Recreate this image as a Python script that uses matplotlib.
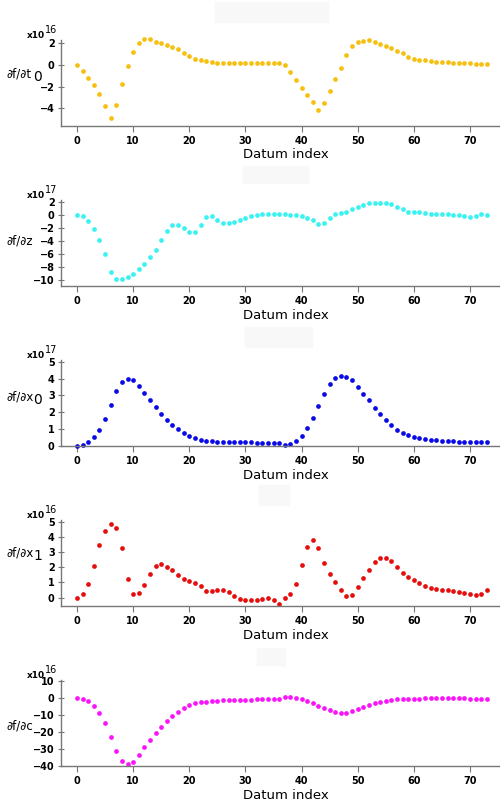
import numpy as np
import matplotlib
matplotlib.use("Agg")
from matplotlib import pyplot as plt
from matplotlib.patches import Rectangle

# datum index
idx = np.arange(74)

# derivative values, in units of the exponent shown on each panel
dt0 = [0.0, -0.55, -1.2, -1.9, -2.7, -3.8, -4.9, -3.7, -1.8, -0.15,
       1.2, 2.0, 2.3, 2.3, 2.1, 1.95, 1.8, 1.65, 1.45, 1.1,
       0.75, 0.55, 0.42, 0.3, 0.22, 0.17, 0.15, 0.15, 0.15, 0.15,
       0.15, 0.15, 0.15, 0.15, 0.15, 0.15, 0.15, -0.05, -0.68, -1.36,
       -2.15, -2.75, -3.45, -4.15, -3.5, -2.4, -1.27, -0.27, 0.85, 1.7,
       2.07, 2.18, 2.22, 2.05, 1.87, 1.69, 1.48, 1.25, 1.04, 0.68,
       0.5, 0.45, 0.4, 0.32, 0.27, 0.24, 0.2, 0.18, 0.16, 0.14,
       0.12, 0.1, 0.1, 0.1]
dz = [0.05, -0.15, -0.87, -2.1, -3.8, -6.0, -8.7, -9.9, -9.75, -9.5,
      -9.1, -8.3, -7.55, -6.4, -5.3, -3.8, -2.45, -1.6, -1.5, -1.95,
      -2.55, -2.65, -1.5, -0.3, -0.2, -0.7, -1.2, -1.3, -1.1, -0.75,
      -0.45, -0.15, 0.05, 0.15, 0.15, 0.15, 0.2, 0.1, 0.05, 0.0,
      -0.15, -0.4, -0.8, -1.4, -1.2, -0.45, 0.1, 0.25, 0.45, 0.85,
      1.3, 1.5, 1.85, 1.9, 1.9, 1.85, 1.7, 1.3, 0.9, 0.45,
      0.4, 0.45, 0.3, 0.2, 0.1, 0.1, 0.1, 0.05, -0.05, -0.2,
      -0.3, -0.15, 0.1, -0.05]
dx0 = [0.0, 0.06, 0.22, 0.52, 0.95, 1.6, 2.42, 3.27, 3.8, 3.97,
       3.9, 3.55, 3.15, 2.72, 2.3, 1.92, 1.57, 1.27, 1.0, 0.75,
       0.6, 0.46, 0.38, 0.32, 0.28, 0.25, 0.24, 0.23, 0.22, 0.22,
       0.21, 0.21, 0.2, 0.2, 0.2, 0.19, 0.18, 0.05, 0.1, 0.28,
       0.6, 1.07, 1.65, 2.36, 3.1, 3.7, 4.05, 4.18, 4.12, 3.9,
       3.5, 3.1, 2.7, 2.27, 1.88, 1.53, 1.23, 0.97, 0.8, 0.65,
       0.56, 0.46, 0.4, 0.36, 0.33, 0.3, 0.28, 0.27, 0.26, 0.25,
       0.24, 0.23, 0.23, 0.23]
dx1 = [0.0, 0.22, 0.92, 2.1, 3.43, 4.4, 4.85, 4.56, 3.27, 1.22,
       0.22, 0.28, 0.8, 1.55, 2.05, 2.18, 2.03, 1.81, 1.5, 1.2,
       1.07, 0.98, 0.74, 0.46, 0.41, 0.52, 0.52, 0.37, 0.11, -0.07,
       -0.15, -0.17, -0.15, -0.11, -0.04, -0.13, -0.44, -0.04, 0.22, 0.9,
       2.12, 3.32, 3.78, 3.27, 2.27, 1.53, 1.0, 0.5, 0.09, 0.2,
       0.7, 1.27, 1.81, 2.34, 2.6, 2.6, 2.4, 2.03, 1.62, 1.33,
       1.16, 0.94, 0.74, 0.61, 0.55, 0.5, 0.48, 0.41, 0.35, 0.28,
       0.22, 0.17, 0.22, 0.48]
dc = [0.0, -0.6, -2.2, -5.0, -9.2, -15.1, -23.1, -31.5, -37.0, -39.0,
      -37.5, -33.7, -29.0, -24.7, -20.7, -17.1, -13.9, -11.0, -8.4, -6.2,
      -4.4, -3.4, -2.8, -2.4, -2.0, -1.8, -1.6, -1.6, -1.5, -1.5,
      -1.2, -1.2, -1.1, -1.1, -1.0, -1.0, -0.9, 0.2, 0.1, -0.4,
      -1.0, -2.0, -3.4, -4.8, -6.2, -7.4, -8.4, -9.0, -8.8, -7.8,
      -6.6, -5.4, -4.2, -3.2, -2.4, -1.8, -1.4, -1.0, -0.8, -0.7,
      -0.6, -0.6, -0.5, -0.5, -0.5, -0.5, -0.5, -0.5, -0.5, -0.5,
      -0.6, -0.6, -0.6, -0.6]

series = [dt0, dz, dx0, dx1, dc]
colors = ["#f5c010", "#3af2f2", "#0a0ae6", "#e60d0d", "#fa14fa"]
exponents = ["16", "17", "17", "16", "16"]
ylabels = [("\u2202f/\u2202t", "0"), ("\u2202f/\u2202z", ""),
           ("\u2202f/\u2202x", "0"), ("\u2202f/\u2202x", "1"),
           ("\u2202f/\u2202c", "")]
yticks = [[-4, -2, 0, 2], list(range(-10, 3, 2)), list(range(0, 6)),
          list(range(0, 6)), list(range(-40, 11, 10))]
ylims = [(-5.6, 2.25), (-10.9, 2.3), (0, 5.1), (-0.55, 5.1), (-40, 10.3)]
ylabel_y = [74, 241, 397, 553, 726]   # pixel rows of the y labels
title_boxes = [(215, 2, 113, 20), (243, 166, 65, 17), (245, 327, 67, 20),
               (259, 485, 30, 20), (257, 648, 28, 17)]

W, H = 500, 805
fig = plt.figure(figsize=(5, 8.05), dpi=100)


def fx(px):
    return px / W


def fy(py):
    return 1 - py / H


for (bx, by, bw, bh) in title_boxes:
    fig.patches.append(Rectangle((fx(bx), fy(by + bh)), bw / W, bh / H,
                                 transform=fig.transFigure, color="#f8f8f8",
                                 zorder=0))

for i, vals in enumerate(series):
    top = 40 + 160 * i
    ax = fig.add_axes([fx(61), fy(top + 86), 450 / W, 86 / H])
    ax.plot(idx, vals, "o", color=colors[i], markersize=3.4,
            markeredgewidth=0, clip_on=False)
    ax.set_xlim(-2.85, 77.3)
    ax.set_ylim(*ylims[i])
    ax.set_xticks(range(0, 71, 10))
    ax.set_yticks(yticks[i])
    for s in ["top", "right"]:
        ax.spines[s].set_visible(False)
    for s in ["left", "bottom"]:
        ax.spines[s].set_color("#777777")
        ax.spines[s].set_linewidth(1.0)
    ax.tick_params(axis="x", direction="out", length=4, color="#777777",
                   labelsize=7, pad=3)
    ax.tick_params(axis="y", direction="inout", length=5, color="#777777",
                   labelsize=7, pad=2)
    for lab in ax.get_xticklabels() + ax.get_yticklabels():
        lab.set_fontweight("bold")
    ax.set_xlabel("Datum index", fontsize=9.5, labelpad=2)

    # exponent marker at top of the y axis
    fig.text(fx(45), fy(top - 5), "x10", fontsize=6.5, fontweight="bold",
             ha="right", va="center")
    fig.text(fx(45), fy(top - 10), exponents[i], fontsize=7,
             ha="left", va="center")

    # y label with subscript
    main, sub = ylabels[i]
    fig.text(fx(6), fy(ylabel_y[i]), main, fontsize=8.5,
             ha="left", va="center")
    if sub:
        fig.text(fx(33), fy(ylabel_y[i] + 3), sub, fontsize=10,
                 ha="left", va="center")

fig.savefig("out.png", dpi=100)
